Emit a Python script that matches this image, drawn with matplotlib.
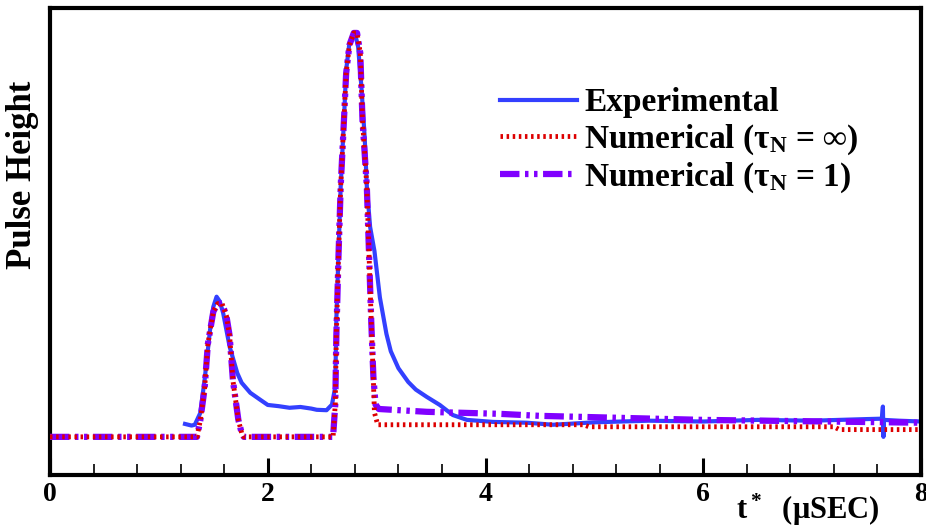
import matplotlib
matplotlib.use('Agg')
import matplotlib.pyplot as plt

# значения (база = 0, максимум второго пика = 1)
exp_t = [1.24, 1.30, 1.33, 1.38, 1.42, 1.47, 1.50, 1.53, 1.56, 1.59, 1.65, 1.72,
         1.76, 1.84, 1.93, 2.00, 2.10, 2.20, 2.30, 2.40, 2.45, 2.54, 2.59, 2.62,
         2.63, 2.65, 2.67, 2.70, 2.72, 2.75, 2.80, 2.83, 2.86, 2.89, 2.91, 2.94,
         2.98, 3.03, 3.09, 3.13, 3.20, 3.29, 3.36, 3.46, 3.58, 3.70, 3.83, 4.07,
         4.38, 4.62, 5.00, 5.50, 6.00, 6.50, 7.00, 7.50, 7.64, 7.65, 7.655, 7.66,
         7.80, 8.00]
exp_y = [0.032, 0.028, 0.030, 0.059, 0.141, 0.265, 0.322, 0.347, 0.335, 0.307,
         0.223, 0.158, 0.134, 0.109, 0.092, 0.079, 0.076, 0.072, 0.074, 0.070,
         0.067, 0.066, 0.080, 0.124, 0.290, 0.455, 0.620, 0.785, 0.908, 0.975,
         1.000, 0.966, 0.867, 0.743, 0.620, 0.520, 0.460, 0.345, 0.255, 0.212,
         0.170, 0.136, 0.117, 0.099, 0.079, 0.054, 0.042, 0.037, 0.035, 0.030,
         0.036, 0.040, 0.038, 0.042, 0.040, 0.044, 0.045, 0.075, 0.000, 0.042,
         0.040, 0.038]

red_t = [0.00, 1.35, 1.38, 1.42, 1.45, 1.50, 1.54, 1.58, 1.62, 1.65, 1.68, 1.73,
         1.76, 1.78, 2.60, 2.62, 2.63, 2.65, 2.67, 2.70, 2.72, 2.75, 2.79, 2.82,
         2.85, 2.87, 2.91, 2.93, 2.95, 2.97, 2.98, 3.01, 3.05, 4.90, 4.95, 7.20,
         7.25, 8.00]
red_y = [0.0, 0.0, 0.04, 0.12, 0.23, 0.31, 0.33, 0.33, 0.30, 0.25, 0.14, 0.042,
         0.01, 0.0, 0.0, 0.08, 0.25, 0.45, 0.62, 0.785, 0.90, 0.97, 1.0, 1.0,
         0.95, 0.785, 0.62, 0.455, 0.29, 0.141, 0.06, 0.03, 0.03, 0.03, 0.025,
         0.025, 0.018, 0.018]

pur_t = [0.00, 1.35, 1.38, 1.42, 1.45, 1.50, 1.54, 1.58, 1.62, 1.65, 1.68, 1.73,
         1.76, 1.78, 2.60, 2.62, 2.63, 2.65, 2.67, 2.70, 2.72, 2.75, 2.79, 2.82,
         2.85, 2.87, 2.91, 2.93, 2.95, 2.97, 2.99, 3.02, 3.46, 4.13, 4.50, 6.00,
         8.00]
pur_y = [0.0, 0.0, 0.04, 0.12, 0.23, 0.31, 0.33, 0.33, 0.30, 0.25, 0.14, 0.042,
         0.01, 0.0, 0.0, 0.08, 0.25, 0.45, 0.62, 0.785, 0.90, 0.97, 1.0, 1.0,
         0.95, 0.785, 0.62, 0.455, 0.29, 0.15, 0.08, 0.069, 0.062, 0.057, 0.052,
         0.042, 0.035]

labels = ['Experimental',
          r'Numerical (τ$_\mathregular{N}$ = ∞)',
          r'Numerical (τ$_\mathregular{N}$ = 1)']

plt.rcParams['font.family'] = 'Liberation Serif'
plt.rcParams['font.weight'] = 'bold'
plt.rcParams['mathtext.default'] = 'regular'
plt.rcParams['lines.scale_dashes'] = False

fig = plt.figure(figsize=(9.26, 5.27), dpi=100)
ax = fig.add_axes([0.054, 0.099, 0.9406, 0.886])

ax.plot(exp_t, exp_y, color='#3340ff', lw=3.0, label=labels[0], zorder=2)
ax.plot(pur_t, pur_y, color='#8000ff', lw=4.5, label=labels[2], zorder=3,
        dashes=(14, 4, 2.5, 4, 2.5, 4), dash_capstyle='butt')
ax.plot(red_t, red_y, color='#dd0000', lw=3.5, label=labels[1], zorder=4,
        dashes=(1.8, 2.6), dash_capstyle='butt')

ax.set_xlim(0, 8)
ax.set_ylim(-0.094, 1.062)
ax.set_xticks([0, 2, 4, 6, 8])
ax.set_xticks([i * 0.4 for i in range(21)], minor=True)
ax.set_yticks([])
ax.tick_params(axis='x', which='major', direction='in', length=12, width=2.2,
               labelsize=20, pad=5)
ax.tick_params(axis='x', which='minor', direction='in', length=8, width=1.2)
for s in ax.spines.values():
    s.set_linewidth(3)

ax.set_ylabel('Pulse Height', fontsize=25, fontweight='bold')
ax.yaxis.set_label_coords(-0.032, 0.642)
ax.yaxis.label.set_verticalalignment('center')
ax.set_xlabel('t$^*$  (μSEC)', fontsize=22, fontweight='bold')
ax.xaxis.set_label_coords(0.87, -0.075)
ax.xaxis.label.set_verticalalignment('center')

h, l = ax.get_legend_handles_labels()
order = [0, 2, 1]
ax.legend([h[i] for i in order], [l[i] for i in order], loc='upper left',
          bbox_to_anchor=(0.517, 0.83), frameon=False, fontsize=24,
          handlelength=2.3, handletextpad=0.22, labelspacing=0.12,
          borderpad=0, borderaxespad=0)

fig.savefig('out.png', dpi=100)
